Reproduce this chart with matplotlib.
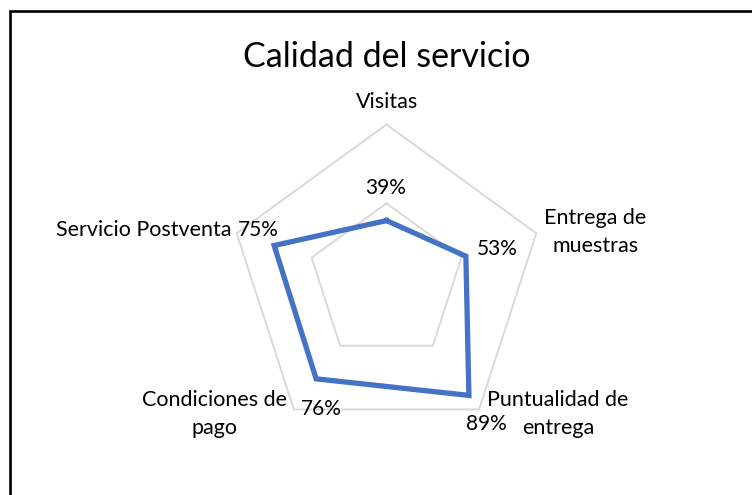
import numpy as np
import matplotlib
matplotlib.use("Agg")
import matplotlib.pyplot as plt
from matplotlib.patches import Rectangle

title = "Calidad del servicio"
categories = ["Visitas", "Entrega de\nmuestras", "Puntualidad de\nentrega",
              "Condiciones de\npago", "Servicio Postventa"]
values = [0.39, 0.53, 0.89, 0.76, 0.75]
value_labels = ["39%", "53%", "89%", "76%", "75%"]
grid_levels = [0.5, 1.0]

FONT = "Lato"
W, H = 752, 495
fig = plt.figure(figsize=(W / 100, H / 100), dpi=100)
fig.patch.set_facecolor("white")

# chart frame
fig.patches.append(Rectangle((9.5 / W, -0.1), 1.2, (H - 11) / H + 0.1,
                             transform=fig.transFigure, fill=False,
                             edgecolor="black", linewidth=1.9))

cx, cy, R = 386.5, 282.0, 157.5
ax = fig.add_axes([(cx - R) / W, (H - cy - R) / H, 2 * R / W, 2 * R / H],
                  projection="polar")
ax.set_theta_offset(np.pi / 2)
ax.set_theta_direction(-1)
ax.set_ylim(0, 1)
ax.set_axis_off()

n = len(categories)
angles = np.arange(n) * 2 * np.pi / n
ang_closed = np.append(angles, angles[0])

for lvl in grid_levels:
    ax.plot(ang_closed, [lvl] * (n + 1), color="#D9D9D9", lw=1.4, zorder=1,
            clip_on=False)

vals_closed = np.append(values, values[0])
ax.plot(ang_closed, vals_closed, color="#4472C4", lw=3.8, zorder=3,
        solid_joinstyle="miter", clip_on=False)

# value labels (offsets in pixels from data point)
val_offsets = [(-1, 33), (31, 7), (17, -29), (5, -30), (-16, 15)]
for a, v, lab, off in zip(angles, values, value_labels, val_offsets):
    ax.annotate(lab, (a, v), xytext=off, textcoords="offset pixels",
                ha="center", va="center", fontsize=15, family=FONT,
                color="#000000", annotation_clip=False, zorder=5)

# category labels (offsets in pixels from outer vertex), one text per line
cat_offsets = [(0.5, 23), (59, 1), (79, -5), (-79, -5), (-5, 3)]
cat_ha = ["center", "center", "center", "center", "right"]
LINE_PITCH = 28
for a, lab, off, ha in zip(angles, categories, cat_offsets, cat_ha):
    lines = lab.split("\n")
    k = len(lines)
    for i, line in enumerate(lines):
        dy = ((k - 1) / 2 - i) * LINE_PITCH
        ax.annotate(line, (a, 1.0), xytext=(off[0], off[1] + dy),
                    textcoords="offset pixels", ha=ha, va="center",
                    fontsize=15.5, family=FONT, color="#000000",
                    annotation_clip=False)

fig.text(386.5 / W, 1 - 67 / H, title, ha="center", va="baseline",
         fontsize=24.5, family=FONT, color="#000000")

fig.savefig("out.png", dpi=100)
